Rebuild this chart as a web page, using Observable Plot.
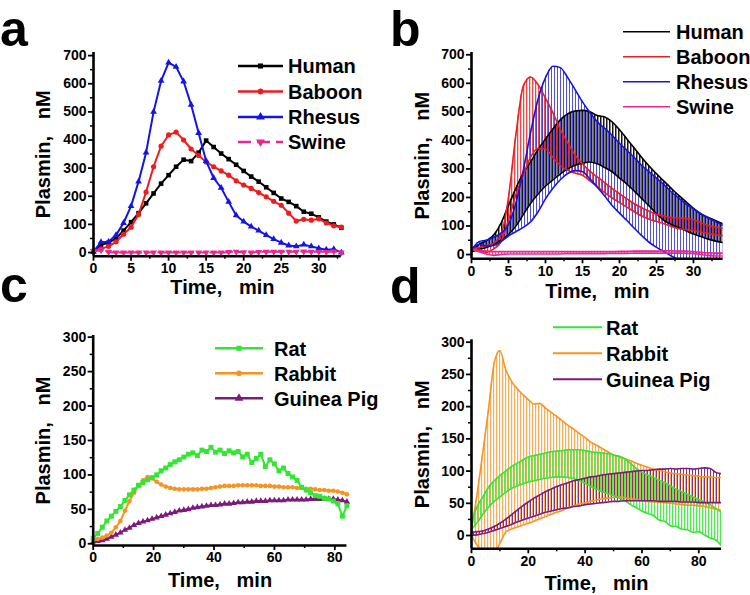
<!DOCTYPE html>
<html>
<head>
<meta charset="utf-8">
<script src="https://cdn.jsdelivr.net/npm/d3@7"></script>
<script src="https://cdn.jsdelivr.net/npm/@observablehq/plot@0.6"></script>
<style>
html, body { margin: 0; padding: 0; background: #fff; }
#chart { position: relative; width: 750px; height: 595px; overflow: hidden; background: #fff;
  font-family: 'Liberation Sans', Arial, Helvetica, sans-serif; }
#chart .panel { position: absolute; }
#chart svg text { white-space: pre; }
#overlay { position: absolute; left: 0; top: 0; pointer-events: none; }
</style>
</head>
<body>
<svg width="0" height="0" style="position:absolute">
  <defs>
    <pattern id="hatch-Human" patternUnits="userSpaceOnUse" width="3" height="6"><rect x="0" y="0" width="1.5" height="6" fill="#000000" fill-opacity="0.9"/></pattern>
    <pattern id="hatch-Baboon" patternUnits="userSpaceOnUse" width="3" height="6"><rect x="1" y="0" width="1.3" height="6" fill="#ee1c1c" fill-opacity="0.8"/></pattern>
    <pattern id="hatch-Rhesus" patternUnits="userSpaceOnUse" width="3" height="6"><rect x="2" y="0" width="1.3" height="6" fill="#1414e6" fill-opacity="0.75"/></pattern>
    <pattern id="hatch-Swine" patternUnits="userSpaceOnUse" width="3" height="6"><rect x="0" y="0" width="1.2" height="6" fill="#e8288e" fill-opacity="0.8"/></pattern>
    <pattern id="hatch-Rat" patternUnits="userSpaceOnUse" width="3" height="6"><rect x="0" y="0" width="1.3" height="6" fill="#33e633" fill-opacity="0.85"/></pattern>
    <pattern id="hatch-Rabbit" patternUnits="userSpaceOnUse" width="3" height="6"><rect x="1" y="0" width="1.2" height="6" fill="#f7931e" fill-opacity="0.75"/></pattern>
    <pattern id="hatch-GuineaPig" patternUnits="userSpaceOnUse" width="3" height="6"><rect x="2" y="0" width="1.3" height="6" fill="#7d1a6d" fill-opacity="0.9"/></pattern>
  </defs>
</svg>
<div id="chart"></div>
<script>
// ---------------- DATA ----------------
// Panel a: mean plasmin (nM) vs time (min), primates + swine
const tA = d3.range(0, 34, 1);
const aHuman  = [5,28,35,50,78,108,140,175,210,245,275,305,330,325,355,398,375,352,332,312,290,270,252,232,212,192,180,165,145,138,125,110,100,88];
const aBaboon = [3,13,22,38,65,90,135,215,305,378,418,428,400,368,345,322,305,290,275,255,240,228,213,198,182,168,140,112,118,115,120,105,95,90];
const aRhesus = [3,37,38,62,105,165,252,355,500,610,675,660,608,525,425,325,265,230,180,132,110,92,78,62,48,35,25,22,28,22,15,10,12,0];
const aSwine  = [5,8,2,0,0,0,0,0,0,0,0,0,0,0,0,0,0,0,2,3,1,0,2,3,3,3,3,3,4,3,3,2,4,0];
const namesTop = ["Human", "Baboon", "Rhesus", "Swine"];

// Panel b: upper / lower envelope (nM)
const tB = d3.range(0, 35, 1);
const bHumanHi  = [10,35,48,68,110,172,232,285,325,368,405,440,472,493,503,505,500,487,482,465,437,405,373,340,310,283,257,232,207,185,162,142,130,118,107];
const bHumanLo  = [10,18,25,35,50,70,100,140,180,212,240,262,282,300,313,320,324,318,305,290,268,247,222,196,170,143,120,105,94,83,72,63,54,47,42];
const bBaboonHi = [20,25,30,40,70,200,420,590,622,595,548,497,438,392,348,318,292,272,252,232,213,195,178,164,152,141,135,130,128,126,122,112,102,96,92];
const bBaboonLo = [20,12,8,20,45,120,210,278,342,372,370,340,312,295,285,278,258,238,217,198,182,166,150,135,124,116,108,98,90,87,84,79,74,69,66];
const bRhesusHi = [15,45,50,60,75,105,180,295,430,545,620,660,655,620,578,535,498,465,442,418,390,365,340,312,290,268,245,220,198,177,160,143,128,115,102];
const bRhesusLo = [15,35,30,32,45,65,80,95,115,150,195,232,262,284,294,290,265,236,205,172,145,119,92,66,43,25,10,-5,-18,-28,-35,-40,-45,-50,-50];
const bSwineHi  = [20,16,12,10,10,10,10,10,10,10,10,10,10,10,10,10,10,10,10,10,11,11,12,12,12,12,13,13,12,12,10,8,6,5,5];
const bSwineLo  = [18,10,2,-3,0,2,2,2,2,2,2,2,2,3,3,3,3,3,3,4,4,4,5,5,5,5,5,5,5,4,3,0,-4,-5,-5];

// Panel c: mean plasmin (nM), rodents / lagomorph
const tC = d3.range(0, 84.5, 1.5);
const cRat    = [8,15,24,33,40,47,54,63,71,78, 85,89,93,96,100,106,110,115,119,122, 126,130,132,128,136,134,140,133,136,131, 135,132,134,126,130,118,124,130,112,122, 116,106,110,102,97,92,82,78,74,70, 69,66,65,62,58,40,55];
const cRabbit = [5,7,9,12,16,24,33,48,62,74, 84,92,97,95,90,86,83,81,80,79, 79,79,79,79,80,80,81,82,83,84, 84,84,85,85,85,85,85,84,84,84, 83,83,82,82,82,81,81,80,80,79, 78,78,77,77,76,74,72];
const cGuinea = [3,4,5,7,10,13,16,20,23,27, 30,32,34,36,38,40,42,44,46,48, 49,50,52,53,54,55,56,56,57,58, 58,59,60,60,61,61,62,62,62,63, 63,63,63,64,64,64,64,64,65,65, 65,65,65,65,64,63,61];
const namesBottom = ["Rat", "Rabbit", "Guinea Pig"];

// Panel d: upper / lower envelope (nM)
const tD = d3.range(0, 89, 2);
const dRatHi    = [22,45,60,75,85,93,100,107,112,117, 122,124,126,128,130,131,132,133,133,133, 132,130,129,128,127,125,123,119,112,104, 98,94,90,86,82,77,72,68,64,60, 56,52,48,42,36];
const dRatLo    = [10,20,33,44,53,60,67,73,77,80, 83,85,87,89,90,91,91,90,88,85, 81,76,72,68,65,62,58,54,48,43, 38,34,31,24,22,15,14,10,9,5, 6,1,-4,-7,-16];
const dRabbitHi = [10,65,130,196,268,287,258,240,228,219, 211,204,205,198,191,185,178,171,165,158, 152,145,140,135,130,125,122,119,116,112, 109,106,103,101,99,97,96,95,94,93, 92,91,91,90,90];
const dRabbitLo = [0,-15,-25,-30,-28,-12,5,10,13,16, 19,22,26,29,33,36,39,43,46,49, 51,53,55,57,58,59,60,59,57,56, 54,53,52,52,51,50,49,48,47,47, 46,45,43,41,39];
const dGuineaHi = [5,6,7,10,14,19,25,32,39,46, 52,58,63,68,72,76,79,82,85,87, 89,91,92,94,95,96,97,98,99,100, 101,101,102,103,103,104,103,104,104,103, 104,105,104,98,96];
const dGuineaLo = [0,1,3,5,8,11,14,17,21,24, 27,30,33,36,38,40,42,43,45,46, 48,49,50,51,52,53,53,54,54,54, 54,54,54,53,53,53,53,52,52,52, 51,51,51,51,51];

// Axis ticks
const ticksA_x = [0,5,10,15,20,25,30];
const minorA_x = [2.5,7.5,12.5,17.5,22.5,27.5,32.5];
const ticksA_y = [0,100,200,300,400,500,600,700];
const minorA_y = [50,150,250,350,450,550,650];
const ticksC_x = [0,20,40,60,80];
const minorC_x = [10,30,50,70];
const ticksC_y = [0,50,100,150,200,250,300];
const minorC_y = [25,75,125,175,225,275];

const xTitle = "Time,   min";
const yTitle = "Plasmin,   nM";
const panelLetters = ["a", "b", "c", "d"];

// ---------------- STYLE ----------------
const FONT = "'Liberation Sans', Arial, Helvetica, sans-serif";
const COLOR = {Human: "#000000", Baboon: "#ee1c1c", Rhesus: "#1414e6", Swine: "#e8288e",
               Rat: "#33e633", Rabbit: "#f7931e", "Guinea Pig": "#7d1a7d"};
const hatchId = (name) => `url(#hatch-${name.replace(/\s+/g, "")})`;
const triangleDown = {
  draw(ctx, size) {
    const y = -Math.sqrt(size / (Math.sqrt(3) * 3));
    ctx.moveTo(0, -y * 2);
    ctx.lineTo(-Math.sqrt(3) * y, y);
    ctx.lineTo(Math.sqrt(3) * y, y);
    ctx.closePath();
  }
};
const SYMBOL = {Human: "square", Baboon: "circle", Rhesus: "triangle", Swine: triangleDown,
                Rat: "square", Rabbit: "circle", "Guinea Pig": "triangle"};
const D3SYMBOL = {square: d3.symbolSquare, circle: d3.symbolCircle, triangle: d3.symbolTriangle};

const rows = (t, v) => t.map((x, i) => ({t: x, v: v[i]}));
const band = (t, hi, lo) => t.map((x, i) => ({t: x, hi: hi[i], lo: lo[i]}));

function panel(o) {
  return Plot.plot({
    width: o.width, height: o.height,
    marginTop: o.mt, marginRight: o.mr, marginBottom: o.mb, marginLeft: o.ml,
    x: {domain: o.xDomain, label: null},
    y: {domain: o.yDomain, label: null},
    style: {fontFamily: FONT, fontWeight: "bold", fontSize: "14px", color: "black", background: "none", overflow: "visible"},
    marks: [
      ...o.marks,
      Plot.axisX({ticks: o.xTicks, tickSize: 5, tickPadding: 2, strokeWidth: 1.8, fontSize: 14, fontWeight: "bold", label: null}),
      Plot.axisX({ticks: o.xMinor, tickSize: 3, strokeWidth: 1.5, tickFormat: () => "", label: null}),
      Plot.axisY({ticks: o.yTicks, tickSize: 5, tickPadding: 2, strokeWidth: 1.8, fontSize: 14, fontWeight: "bold", label: null}),
      Plot.axisY({ticks: o.yMinor, tickSize: 3, strokeWidth: 1.5, tickFormat: () => "", label: null}),
      Plot.ruleX([o.xDomain[0]], {strokeWidth: 2.6}),
      Plot.ruleY([o.yDomain[0]], {strokeWidth: 2.6}),
      Plot.text([yTitle], {frameAnchor: "left", rotate: -90, dx: o.yLabelDx, textAnchor: "middle", lineAnchor: "middle",
                           fontSize: 20, fontWeight: "bold"}),
      Plot.text([xTitle], {frameAnchor: "bottom", dx: o.xLabelDx, dy: o.xLabelDy, textAnchor: "middle", lineAnchor: "middle",
                           fontSize: 20, fontWeight: "bold"})
    ]
  });
}

function seriesMarks(t, list, opts) {
  const marks = [];
  for (const [name, values] of list) {
    const data = rows(t, values);
    marks.push(Plot.line(data, {x: "t", y: "v", stroke: COLOR[name], strokeWidth: opts.lw,
      strokeDasharray: name === "Swine" ? "9,4" : null}));
    marks.push(Plot.dot(data, {x: "t", y: "v", symbol: SYMBOL[name], r: opts.r[name], fill: COLOR[name], stroke: "none"}));
  }
  return marks;
}

function bandMarks(t, list, curve) {
  const areas = [], lines = [];
  for (const [name, hi, lo] of list) {
    const data = band(t, hi, lo);
    areas.push(Plot.areaY(data, {x: "t", y1: "lo", y2: "hi", fill: hatchId(name), curve, clip: true}));
    lines.push(Plot.line(data, {x: "t", y: "hi", stroke: COLOR[name], strokeWidth: 1.6, curve, clip: true}));
    lines.push(Plot.line(data, {x: "t", y: "lo", stroke: COLOR[name], strokeWidth: 1.6, curve, clip: true}));
  }
  return [...areas, ...lines];
}

// ---------------- PANELS ----------------
const chart = document.getElementById("chart");
function place(svg, left, top) {
  const div = document.createElement("div");
  div.className = "panel";
  div.style.left = left + "px";
  div.style.top = top + "px";
  div.appendChild(svg);
  chart.appendChild(div);
}

place(panel({
  width: 375, height: 300, mt: 52, mr: 34.2, mb: 44.3, ml: 93,
  xDomain: [0, 33], yDomain: [-13, 711],
  xTicks: ticksA_x, xMinor: minorA_x, yTicks: ticksA_y, yMinor: minorA_y,
  yLabelDx: -50, xLabelDx: 5, xLabelDy: 31,
  marks: seriesMarks(tA, [["Human", aHuman], ["Baboon", aBaboon], ["Rhesus", aRhesus], ["Swine", aSwine]],
    {lw: 2, r: {Human: 2.6, Baboon: 2.6, Rhesus: 2.5, Swine: 2.6}})
}), 0, 0);

place(panel({
  width: 375, height: 300, mt: 52, mr: 27.4, mb: 41.7, ml: 96,
  xDomain: [0, 34], yDomain: [-15, 708],
  xTicks: ticksA_x, xMinor: minorA_x, yTicks: ticksA_y, yMinor: minorA_y,
  yLabelDx: -48.5, xLabelDx: 0, xLabelDy: 33,
  marks: bandMarks(tB, [["Human", bHumanHi, bHumanLo], ["Baboon", bBaboonHi, bBaboonLo],
                        ["Rhesus", bRhesusHi, bRhesusLo], ["Swine", bSwineHi, bSwineLo]], "monotone-x")
}), 375, 0);

place(panel({
  width: 375, height: 295, mt: 35, mr: 28.6, mb: 50, ml: 92.7,
  xDomain: [0, 84], yDomain: [-2.5, 302.4],
  xTicks: ticksC_x, xMinor: minorC_x, yTicks: ticksC_y, yMinor: minorC_y,
  yLabelDx: -50, xLabelDx: 0, xLabelDy: 35,
  marks: seriesMarks(tC, [["Guinea Pig", cGuinea], ["Rabbit", cRabbit], ["Rat", cRat]],
    {lw: 2, r: {Rat: 2.8, Rabbit: 2.3, "Guinea Pig": 2.4}})
}), 0, 300);

place(panel({
  width: 375, height: 295, mt: 39.3, mr: 29, mb: 46.7, ml: 96,
  xDomain: [0, 88], yDomain: [-20.6, 303.7],
  xTicks: ticksC_x, xMinor: minorC_x, yTicks: ticksC_y, yMinor: minorC_y,
  yLabelDx: -48.5, xLabelDx: 0, xLabelDy: 35,
  marks: bandMarks(tD, [["Rabbit", dRabbitHi, dRabbitLo], ["Rat", dRatHi, dRatLo],
                        ["Guinea Pig", dGuineaHi, dGuineaLo]], "monotone-x")
}), 375, 300);

// ---------------- LEGENDS & PANEL LETTERS ----------------
const overlay = d3.select(chart).append("svg").attr("id", "overlay")
  .attr("width", 750).attr("height", 595)
  .style("font-family", FONT).style("font-weight", "bold");

const letterPos = [[0, 46], [390, 46], [0, 302], [390, 303]];
panelLetters.forEach((L, i) => {
  overlay.append("text").attr("x", letterPos[i][0]).attr("y", letterPos[i][1])
    .attr("font-size", 50).attr("font-weight", "bold").attr("fill", "#000").text(L);
});

function legend(names, x1, x2, tx, ys, withMarkers, lw) {
  names.forEach((name, i) => {
    const y = ys[i];
    const c = COLOR[name];
    overlay.append("line").attr("x1", x1).attr("x2", x2).attr("y1", y).attr("y2", y)
      .attr("stroke", c).attr("stroke-width", lw)
      .attr("stroke-dasharray", name === "Swine" && withMarkers ? "13,6" : null);
    if (withMarkers) {
      const s = SYMBOL[name];
      const type = typeof s === "string" ? D3SYMBOL[s] : s;
      overlay.append("path").attr("d", d3.symbol(type, s === "triangle" || s === triangleDown ? 34 : 26)())
        .attr("transform", `translate(${(x1 + x2) / 2},${y})`).attr("fill", c);
    }
    overlay.append("text").attr("x", tx).attr("y", y).attr("dy", "0.36em")
      .attr("font-size", 20).attr("fill", "#000").text(name);
  });
}
legend(namesTop, 238, 283, 288, [66, 91.5, 117, 142], true, 2.4);
legend(namesTop, 623, 670, 676, [31.7, 56.7, 81.7, 106.7], false, 1.6);
legend(namesBottom, 215, 263, 274, [348.3, 373.3, 398.3], true, 2.4);
legend(namesBottom, 553, 602, 606, [327.3, 353.3, 379.3], false, 2);
</script>
</body>
</html>
